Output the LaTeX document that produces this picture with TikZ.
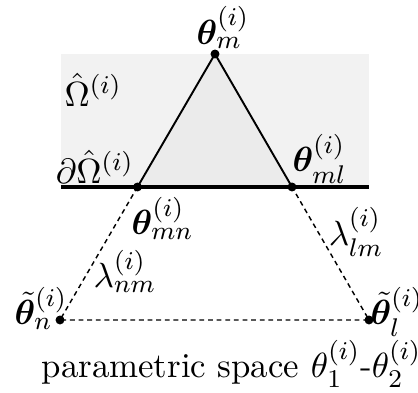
\documentclass[tikz,border=0pt]{standalone}
\usepackage{amsmath,amssymb,bm}
\usetikzlibrary{calc}
\tikzset{
  vertex/.style={circle,fill,inner sep=0pt,minimum size=2.8pt},
  region/.style={fill=gray!10},
  boundary/.style={line width=1.2pt},
  edge/.style={line width=0.6pt},
  link/.style={line width=0.45pt,dash pattern=on 1.5pt off 1.2pt},
}
\begin{document}
\begin{tikzpicture}[x=1.1cm,y=1.1cm,font=\fontsize{10.9}{13}\selectfont]
  \useasboundingbox (0,0) rectangle (4.18,3.93);
  % corner points
  \coordinate (m) at (2.15,3.39);
  \coordinate (n) at (0.60,0.73);
  \coordinate (l) at (3.69,0.73);
  \coordinate (mn) at ($(m)!0.5!(n)$);
  \coordinate (ml) at ($(m)!0.5!(l)$);
  \coordinate (bl) at (0.61,2.06);
  \coordinate (br) at (3.69,2.06);
  % domain
  \fill[region] (bl) rectangle (3.69,3.39);
  \fill[gray!16] (m) -- (mn) -- (ml) -- cycle;
  \draw[boundary] (bl) -- (br);
  \draw[edge] (mn) -- (m) -- (ml);
  \draw[link] (mn) -- (n) -- (l) -- (ml);
  \foreach \p in {m,n,l,mn,ml}
    \node[vertex] at (\p) {};
  % labels
  \node[above, inner sep=1.5pt, xshift=2.5pt] (lm) at (m) {$\bm{\theta}_m^{(i)}$};
  \node[anchor=west, inner sep=0pt] (lom) at (0.64,3.03) {$\hat{\Omega}^{(i)}$};
  \node[above left, inner sep=1pt] (ldom) at (mn) {$\partial\hat{\Omega}^{(i)}$};
  \node[anchor=south west, inner sep=1pt, xshift=-1pt] (lml) at (ml) {$\bm{\theta}_{ml}^{(i)}$};
  \node[anchor=north west, inner sep=1pt, xshift=-3pt, yshift=-2pt] (lmn) at (mn) {$\bm{\theta}_{mn}^{(i)}$};
  \node (llm) at (3.56,1.61) {$\lambda_{lm}^{(i)}$};
  \node (lnm) at (1.25,1.22) {$\lambda_{nm}^{(i)}$};
  \node[anchor=base east, inner sep=0pt, xshift=2.5pt, yshift=-1.5pt] (ln) at (n) {$\tilde{\bm{\theta}}_n^{(i)}$};
  \node[anchor=base west, inner sep=0pt, xshift=0.3pt, yshift=-1.5pt] (ll) at (l) {$\tilde{\bm{\theta}}_l^{(i)}$};
  \node[anchor=base west, inner sep=0pt] (cap) at (0.41,0.15) {parametric space $\theta_1^{(i)}$-$\theta_2^{(i)}$};
\end{tikzpicture}
\end{document}
